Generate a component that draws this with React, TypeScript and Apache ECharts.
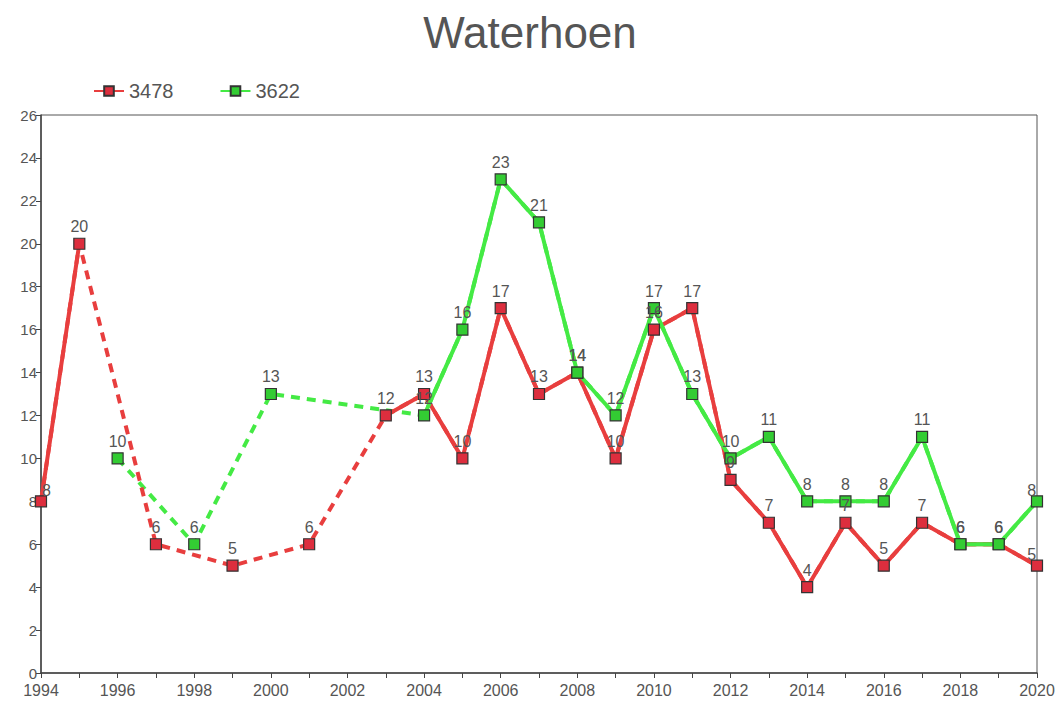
import React, { useEffect, useRef } from "react";
import * as echarts from "echarts";

const years = [
  "1994", "1995", "1996", "1997", "1998", "1999", "2000", "2001", "2002",
  "2003", "2004", "2005", "2006", "2007", "2008", "2009", "2010", "2011",
  "2012", "2013", "2014", "2015", "2016", "2017", "2018", "2019", "2020",
];

const s3478: (number | null)[] = [
  8, 20, null, 6, null, 5, null, 6, null, 12, 13, 10, 17, 13, 14, 10, 16, 17,
  9, 7, 4, 7, 5, 7, 6, 6, 5,
];

const s3622: (number | null)[] = [
  null, null, 10, null, 6, null, 13, null, null, null, 12, 16, 23, 21, 14, 12,
  17, 13, 10, 11, 8, 8, 8, 11, 6, 6, 8,
];

const yTicks = { min: 0, max: 26, interval: 2 };

const FONT = "'Liberation Sans', Arial, sans-serif";

function solidSeries(name: string, values: (number | null)[], line: string, fill: string) {
  const last = values.length - 1;
  return {
    name,
    type: "line",
    z: 3,
    clip: false,
    symbol: "rect",
    symbolSize: 11,
    connectNulls: false,
    lineStyle: { color: line, width: 4 },
    itemStyle: { color: fill, borderColor: "#333", borderWidth: 1.2 },
    label: {
      show: true,
      position: "top",
      distance: 3,
      color: "#555",
      fontSize: 16,
      fontFamily: FONT,
    },
    data: values.map((v, i) => {
      if (v === null) return null;
      if (i === 0) return { value: v, label: { position: "insideBottomLeft", offset: [4, -6] } };
      if (i === last) return { value: v, label: { position: "insideBottomRight", offset: [-4, -6] } };
      return v;
    }),
  };
}

function dashedSeries(name: string, values: (number | null)[], line: string) {
  return {
    name,
    type: "line",
    z: 2,
    clip: false,
    symbol: "none",
    connectNulls: true,
    lineStyle: { color: line, width: 4, type: [9, 7] },
    label: { show: false },
    data: values,
  };
}

export default function App() {
  const ref = useRef<HTMLDivElement>(null);
  useEffect(() => {
    if (!ref.current) return;
    const chart = echarts.init(ref.current, null, { renderer: "svg" });
    const red = "#e83e3e";
    const redFill = "#dd2e3e";
    const green = "#44ea44";
    const greenFill = "#33cc33";
    chart.setOption({
      animation: false,
      backgroundColor: "#fff",
      title: {
        text: "Waterhoen",
        left: "center",
        top: 5,
        textStyle: { fontSize: 44, fontWeight: "normal", color: "#555", fontFamily: FONT },
      },
      legend: {
        data: ["3478", "3622"],
        left: 88,
        top: 76,
        itemWidth: 30,
        itemHeight: 12,
        itemGap: 46,
        textStyle: { fontSize: 20, color: "#555", fontFamily: FONT },
      },
      grid: {
        left: 41,
        right: 23,
        top: 115,
        bottom: 29,
        show: true,
        borderColor: "#555",
        borderWidth: 1,
        containLabel: false,
      },
      xAxis: {
        type: "category",
        data: years,
        boundaryGap: false,
        axisLine: { lineStyle: { color: "#444", width: 1.5 } },
        axisTick: { show: true, inside: false, length: 5, interval: 0, lineStyle: { color: "#444" } },
        axisLabel: { interval: 1, color: "#555", fontSize: 16, fontFamily: FONT, margin: 9 },
        splitLine: { show: false },
      },
      yAxis: {
        type: "value",
        min: yTicks.min,
        max: yTicks.max,
        interval: yTicks.interval,
        axisLine: { show: true, lineStyle: { color: "#444", width: 1.5 } },
        axisTick: { show: true, length: 5, lineStyle: { color: "#444" } },
        axisLabel: { color: "#555", fontSize: 15, fontFamily: FONT, margin: 4 },
        splitLine: { show: false },
      },
      series: [
        solidSeries("3478", s3478, red, redFill),
        solidSeries("3622", s3622, green, greenFill),
        dashedSeries("3622", s3622, green),
        dashedSeries("3478", s3478, red),
      ],
    });
    return () => chart.dispose();
  }, []);
  return (
    <div
      ref={ref}
      style={{ position: "fixed", left: 0, top: 0, width: 1060, height: 702, background: "#fff" }}
    />
  );
}
